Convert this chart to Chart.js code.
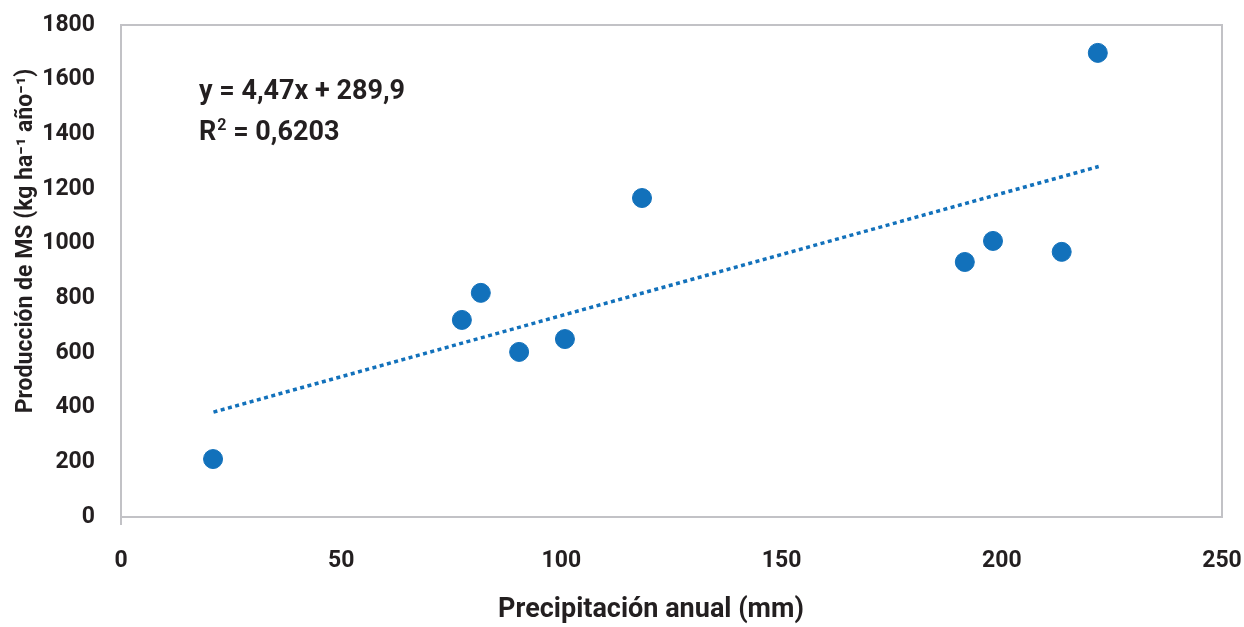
<!DOCTYPE html>
<html>
<head>
<meta charset="utf-8">
<script src="https://cdn.jsdelivr.net/npm/chart.js@4/dist/chart.umd.min.js"></script>
<style>
html,body{margin:0;padding:0;background:#fff;}
#wrap{width:1244px;height:627px;position:relative;}
</style>
</head>
<body>
<div id="wrap"><canvas id="c" width="1244" height="627"></canvas></div>
<script>
const precipitation = [20.9, 77.4, 81.7, 90.4, 100.8, 118.3, 191.6, 198.0, 213.6, 221.8];
const production    = [212, 721, 820, 604, 651, 1167, 933, 1010, 970, 1698];
const trendSlope = 4.47;
const trendIntercept = 289.9;
const trendRange = [21, 222];
const xTitle = 'Precipitación anual (mm)';
const yTitle = 'Producción de MS (kg ha⁻¹ año⁻¹)';

const FONT = "Roboto, 'Liberation Sans', sans-serif";
const TXT = '#231f20';
const BLUE = '#1271bb';

const points = precipitation.map((x, i) => ({x: x, y: production[i]}));
const trend = trendRange.map(x => ({x: x, y: trendSlope * x + trendIntercept}));

const framePlugin = {
  id: 'frame',
  beforeDatasetsDraw(chart) {
    const {ctx, chartArea: a} = chart;
    ctx.save();
    ctx.strokeStyle = '#c2c2c6';
    ctx.lineWidth = 2;
    ctx.strokeRect(a.left, a.top, a.right - a.left, a.bottom - a.top);
    ctx.beginPath();
    ctx.moveTo(a.left, a.bottom);
    ctx.lineTo(a.left, a.bottom + 8);
    ctx.stroke();
    ctx.restore();
  },
  afterDatasetsDraw(chart) {
    const {ctx, scales, chartArea: a} = chart;
    ctx.save();
    ctx.fillStyle = TXT;
    ctx.font = "bold 27px " + FONT;
    ctx.textBaseline = 'alphabetic';
    const x0 = scales.x.getPixelForValue(17.7);
    const y0 = scales.y.getPixelForValue(1530);
    ctx.fillText('y = 4,47x + 289,9', x0, y0);
    const y1 = scales.y.getPixelForValue(1380);
    ctx.fillText('R', x0, y1);
    const rw = ctx.measureText('R').width;
    ctx.font = "bold 16px " + FONT;
    ctx.fillText('2', x0 + rw + 1, y1 - 10);
    const sw = ctx.measureText('2').width;
    ctx.font = "bold 27px " + FONT;
    ctx.fillText(' = 0,6203', x0 + rw + sw + 1, y1);

    // axis titles
    ctx.textAlign = 'center';
    ctx.textBaseline = 'middle';
    ctx.font = "bold 27px " + FONT;
    ctx.fillText(xTitle, 651, 610);
    ctx.save();
    ctx.translate(26, 241);
    ctx.rotate(-Math.PI / 2);
    ctx.font = "bold 23px " + FONT;
    ctx.fillText(yTitle, 0, 0);
    ctx.restore();
    ctx.restore();
  }
};

new Chart(document.getElementById('c'), {
  type: 'scatter',
  data: {
    datasets: [
      {
        label: 'Producción',
        data: points,
        backgroundColor: BLUE,
        borderColor: BLUE,
        pointRadius: 9.5,
        pointHoverRadius: 9.5,
        order: 1
      },
      {
        label: 'Tendencia',
        type: 'line',
        data: trend,
        borderColor: BLUE,
        borderWidth: 3.5,
        borderDash: [4, 3.5],
        pointRadius: 0,
        fill: false,
        order: 2
      }
    ]
  },
  options: {
    responsive: false,
    animation: false,
    layout: {padding: {top: 25, right: 22, left: 0, bottom: 0}},
    plugins: {legend: {display: false}, tooltip: {enabled: false}},
    scales: {
      x: {
        type: 'linear',
        min: 0, max: 250,
        ticks: {stepSize: 50, color: TXT, font: {family: FONT, size: 23, weight: 'bold'}, padding: 22},
        grid: {display: false},
        border: {display: false},
        title: {display: false, text: xTitle},
        afterFit(s) { s.height = 110; s.paddingLeft = 0; s.paddingRight = 0; }
      },
      y: {
        min: 0, max: 1800,
        ticks: {stepSize: 200, color: TXT, font: {family: FONT, size: 23, weight: 'bold'}, padding: 18,
                callback: v => String(v)},
        grid: {display: false},
        border: {display: false},
        title: {display: false, text: yTitle},
        afterFit(s) { s.width = 121; s.paddingTop = 0; s.paddingBottom = 0; }
      }
    }
  },
  plugins: [framePlugin]
});
</script>
</body>
</html>
